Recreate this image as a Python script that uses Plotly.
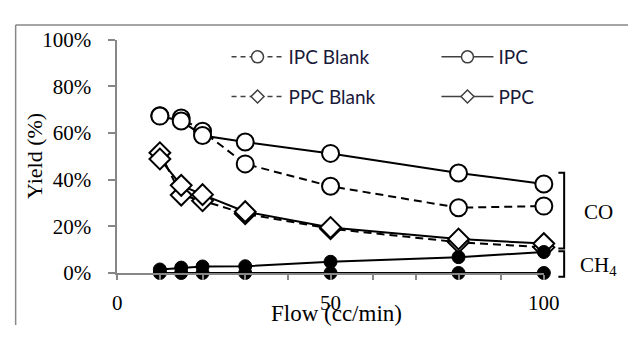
import plotly.graph_objects as go

# Gas flow rate (cc/min)
flow = [10, 15, 20, 30, 50, 80, 100]

# CO yield (%) for each catalyst and its blank run
ipc_blank = [67.5, 66.5, 60.8, 46.8, 37.2, 28.0, 28.7]
ipc = [67.3, 65.2, 59.0, 56.2, 51.3, 42.9, 38.2]
ppc_blank = [51.6, 33.4, 31.0, 25.4, 19.0, 13.2, 11.0]
ppc = [48.9, 37.6, 33.6, 26.3, 19.5, 14.6, 12.6]

# CH4 yield (%)
ch4_rising = [1.5, 2.3, 2.8, 2.9, 4.8, 6.8, 9.0]
ch4_flat = [0.0, 0.0, 0.0, 0.0, 0.0, 0.0, 0.0]

# axis ticks
y_ticks = [0, 20, 40, 60, 80, 100]
y_ticktext = [f"{v}%" for v in y_ticks]
x_ticks = [0, 50, 100]
x_ticktext = [str(v) for v in x_ticks]

W, H = 644, 337


def px(x):
    """pixel column -> paper fraction"""
    return x / W


def py(y):
    """pixel row (from top) -> paper fraction"""
    return 1 - y / H


SERIF = "Liberation Serif, Times New Roman, serif"
SANS = "Lato, Carlito, Calibri, sans-serif"
AXIS_GREY = "#878787"
DASH = "8px,5px"

fig = go.Figure()

open_circle = dict(symbol="circle", size=17, color="white", line=dict(color="black", width=2))
open_diamond = dict(symbol="diamond", size=16, color="white", line=dict(color="black", width=2))
solid_dot = dict(symbol="circle", size=13, color="black", line=dict(color="black", width=1))

series = [
    ("IPC Blank", ipc_blank, DASH, open_circle),
    ("IPC", ipc, "solid", open_circle),
    ("PPC Blank", ppc_blank, DASH, open_diamond),
    ("PPC", ppc, "solid", open_diamond),
    ("CH4 rising", ch4_rising, "solid", solid_dot),
    ("CH4 flat", ch4_flat, "solid", solid_dot),
]
for name, vals, dash, mk in series:
    fig.add_trace(go.Scatter(
        x=flow, y=vals, name=name, mode="lines+markers",
        line=dict(color="black", width=2, dash=dash),
        marker=mk, cliponaxis=False, showlegend=False,
    ))

# legend entries (two columns)
leg_circle = dict(symbol="circle", size=12, color="white", line=dict(color="#404040", width=1.5))
leg_diamond = dict(symbol="diamond", size=10, color="white", line=dict(color="#404040", width=1.5))
legend_items = [
    ("IPC Blank", "5px,4px", leg_circle, "legend"),
    ("PPC Blank", "5px,4px", leg_diamond, "legend"),
    ("IPC", "solid", leg_circle, "legend2"),
    ("PPC", "solid", leg_diamond, "legend2"),
]
for name, dash, mk, leg in legend_items:
    fig.add_trace(go.Scatter(
        x=[None], y=[None], name=name, mode="lines+markers",
        line=dict(color="#404040", width=1.5, dash=dash),
        marker=mk, legend=leg, legendgroup=name, showlegend=True,
    ))

legend_style = dict(
    font=dict(family=SANS, size=19, color="#1a1a3a"),
    bgcolor="rgba(0,0,0,0)", borderwidth=0,
    tracegroupgap=12, xanchor="left", yanchor="top",
    itemwidth=52, itemclick=False, itemdoubleclick=False,
)

# bracket grouping the CO and CH4 curves
shapes = []
for top, bot in [(173, 254.5), (257.5, 285)]:
    shapes.append(dict(
        type="path", xref="paper", yref="paper",
        path=(f"M {px(572)},{py(top)} L {px(578)},{py(top)} "
              f"L {px(578)},{py(bot)} L {px(572)},{py(bot)}"),
        line=dict(color="black", width=2),
    ))
# chart frame (top and left edges)
shapes.append(dict(type="line", xref="paper", yref="paper",
                   x0=px(11), y0=0, x1=px(11), y1=py(14),
                   line=dict(color=AXIS_GREY, width=1.5)))
shapes.append(dict(type="line", xref="paper", yref="paper",
                   x0=px(11), y0=py(14), x1=1, y1=py(14),
                   line=dict(color=AXIS_GREY, width=1.5)))

annotations = [
    dict(text="Yield (%)", x=px(31), y=py(155), xref="paper", yref="paper",
         textangle=-90, showarrow=False, font=dict(family=SERIF, size=22, color="black"),
         xanchor="center", yanchor="middle"),
    dict(text="Flow (cc/min)", x=px(343), y=py(325), xref="paper", yref="paper",
         showarrow=False, font=dict(family=SERIF, size=23, color="black"),
         xanchor="center", yanchor="middle"),
    dict(text="CO", x=px(613), y=py(215), xref="paper", yref="paper",
         showarrow=False, font=dict(family=SERIF, size=21, color="black"),
         xanchor="center", yanchor="middle"),
    dict(text="CH<sub>4</sub>", x=px(614), y=py(273), xref="paper", yref="paper",
         showarrow=False, font=dict(family=SERIF, size=21, color="black"),
         xanchor="center", yanchor="middle"),
]

fig.update_layout(
    width=W, height=H, autosize=False,
    margin=dict(l=0, r=0, t=0, b=0),
    paper_bgcolor="white", plot_bgcolor="white",
    xaxis=dict(
        domain=[px(116), px(557)], range=[0, 100],
        tickmode="array", tickvals=x_ticks, ticktext=x_ticktext,
        ticks="outside", ticklen=5, tickwidth=1.5, tickcolor=AXIS_GREY,
        minor=dict(ticks="outside", ticklen=5, tickwidth=1.5, tickcolor=AXIS_GREY,
                   tick0=0, dtick=10, showgrid=False),
        showline=True, linecolor=AXIS_GREY, linewidth=1.5,
        showgrid=False, zeroline=False, ticklabelstandoff=5,
        tickfont=dict(family=SERIF, size=21, color="black"),
    ),
    yaxis=dict(
        domain=[py(281), py(30)], range=[0, 100],
        tickmode="array", tickvals=y_ticks, ticktext=y_ticktext,
        ticks="outside", ticklen=7, tickwidth=1.5, tickcolor=AXIS_GREY,
        showline=True, linecolor=AXIS_GREY, linewidth=1.5,
        showgrid=False, zeroline=False, ticklabelstandoff=13,
        tickfont=dict(family=SERIF, size=21, color="black"),
    ),
    legend=dict(x=px(229), y=py(28), **legend_style),
    legend2=dict(x=px(446), y=py(28), **legend_style),
    shapes=shapes,
    annotations=annotations,
)

fig.write_html("out.html")
